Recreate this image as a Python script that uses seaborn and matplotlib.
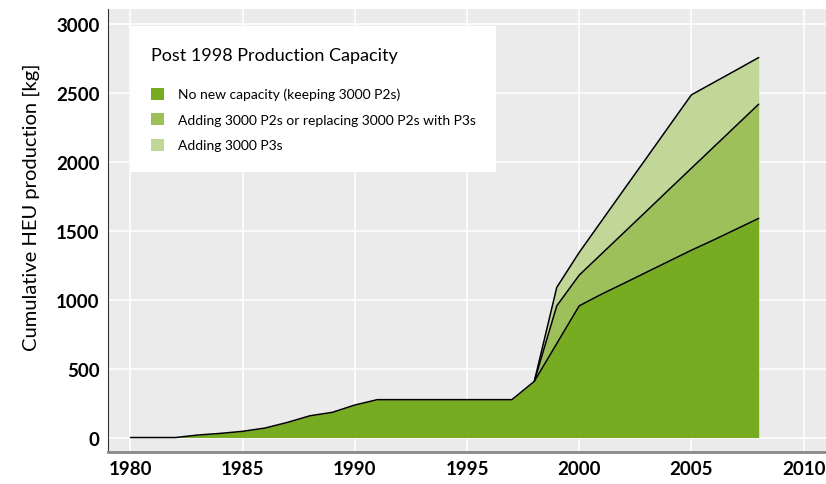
import matplotlib
matplotlib.use("Agg")
import matplotlib.pyplot as plt
from matplotlib.patches import Patch
from matplotlib.ticker import MultipleLocator
import seaborn as sns
import pandas as pd

# --- данные ---
years = list(range(1980, 2009))
no_new = [0, 0, 0, 18, 30, 45, 69, 110, 158, 183, 236, 275, 275, 275, 275, 275, 275, 275,
          408, 682, 956, 1041, 1120, 1200, 1280, 1360, 1435, 1513, 1591]
add_p2 = [None] * 18 + [408, 956, 1179, 1334, 1489, 1644, 1800, 1955, 2110, 2265, 2420]
add_p3 = [None] * 18 + [408, 1090, 1344, 1573, 1802, 2030, 2259, 2488, 2578, 2668, 2759]

labels = ["No new capacity (keeping 3000 P2s)",
          "Adding 3000 P2s or replacing 3000 P2s with P3s",
          "Adding 3000 P3s"]
colors = ["#77ac22", "#9dc05a", "#c1d798"]
legend_title = "Post 1998 Production Capacity"
ylabel = "Cumulative HEU production [kg]"

df = pd.DataFrame({"year": years, "base": no_new, "p2": add_p2, "p3": add_p3})

sns.set_style("darkgrid", {"axes.facecolor": "#ebebeb", "grid.color": "white",
                           "text.color": "black", "axes.labelcolor": "black",
                           "xtick.color": "black", "ytick.color": "black"})
plt.rcParams["font.family"] = ["Lato", "DejaVu Sans"]

fig = plt.figure(figsize=(8.26, 4.85), dpi=100)
ax = fig.add_axes([0.1308, 0.066, 0.8692, 0.913])

post = df[df["year"] >= 1998]
ax.fill_between(post["year"], post["p2"], post["p3"], color=colors[2], lw=0)
ax.fill_between(post["year"], post["base"], post["p2"], color=colors[1], lw=0)
ax.fill_between(df["year"], 0, df["base"], color=colors[0], lw=0)

for col in ["p3", "p2", "base"]:
    sns.lineplot(data=df, x="year", y=col, ax=ax, color="black", lw=1.1)

ax.set_xlim(1979, 2011)
ax.set_ylim(-105, 3110)
ax.xaxis.set_major_locator(MultipleLocator(5))
ax.xaxis.set_minor_locator(MultipleLocator(1))
ax.yaxis.set_major_locator(MultipleLocator(500))
ax.yaxis.set_minor_locator(MultipleLocator(100))
ax.grid(which="minor", visible=False)
ax.grid(which="major", color="white", lw=1.2)
ax.tick_params(axis="both", which="both", direction="in", color="white", width=1,
               labelcolor="black")
ax.tick_params(axis="both", which="major", length=9, labelsize=13.5, pad=6)
ax.tick_params(axis="both", which="minor", length=5)
ax.set_xlabel("")
ax.set_ylabel(ylabel, fontsize=14.5, labelpad=12)
ax.yaxis.label.set_y(0.555)
for lab in ax.get_xticklabels() + ax.get_yticklabels():
    lab.set_fontweight("bold")

for s in ["top", "right"]:
    ax.spines[s].set_visible(False)
ax.spines["left"].set_visible(True)
ax.spines["left"].set_color("#333333")
ax.spines["bottom"].set_visible(True)
ax.spines["bottom"].set_color("#888888")
ax.spines["bottom"].set_linewidth(2)

handles = [Patch(facecolor=c, edgecolor="none") for c in colors]
leg = ax.legend(handles, labels, title=legend_title, loc="upper left",
                bbox_to_anchor=(0.032, 0.961), borderaxespad=0, frameon=True, fancybox=False,
                fontsize=10, title_fontsize=13, handlelength=0.95, handleheight=0.95,
                borderpad=1.45, labelspacing=0.92, handletextpad=0.95, alignment="left")
leg.get_frame().set_facecolor("white")
leg.get_frame().set_edgecolor("none")
leg.get_frame().set_alpha(1)
leg._legend_box.sep = 18

fig.savefig("out.png", dpi=100)
